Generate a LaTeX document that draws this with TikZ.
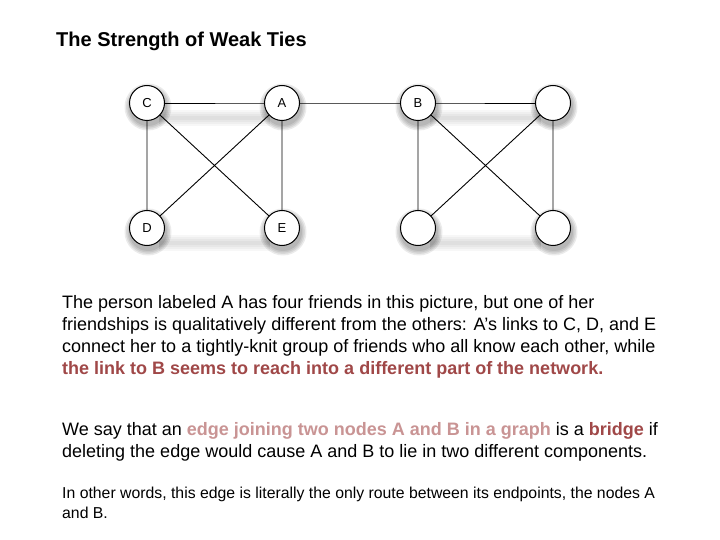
\documentclass[tikz,border=0pt]{standalone}
\usepackage{fontspec}
\setmainfont{Liberation Sans}
\definecolor{darkred}{HTML}{A04848}
\definecolor{lightred}{HTML}{C99494}
\tikzset{
  person/.style={circle, draw=black, line width=1pt, fill=white, minimum size=35pt, inner sep=0pt,
    font=\fontsize{13}{13}\selectfont},
  tie/.style={draw=black, line width=0.9pt},
  softshade/.style={fill=black, opacity=0.08},
  band/.style={fill=black, opacity=0.03},
  line/.style={anchor=base west, inner sep=0pt, font=\fontsize{18}{18}\selectfont},
  smallline/.style={anchor=base west, inner sep=0pt, font=\fontsize{15.8}{15.8}\selectfont},
}
\begin{document}
\begin{tikzpicture}[x=1pt,y=-1pt]
\useasboundingbox (0,0) rectangle (720,540);
\fill[white] (0,0) rectangle (720,540);
\node[anchor=base west, inner sep=0pt, font=\fontsize{20}{20}\selectfont\bfseries] (title) at (56,47) {The Strength of Weak Ties};
% positions
\coordinate (pC) at (147,103);
\coordinate (pA) at (282,103);
\coordinate (pB) at (418,103);
\coordinate (pF) at (553,103);
\coordinate (pD) at (147,228);
\coordinate (pE) at (282,228);
\coordinate (pG) at (418,228);
\coordinate (pH) at (553,228);
% soft shadow bands under the rows
\foreach \x/\y in {147/103, 418/103, 147/228, 418/228} {
  \foreach \h in {2,4,6,8} {
    \fill[band] (\x+12,\y+15-\h) rectangle (\x+123,\y+15+\h);
  }
}
% soft shadows of the circles
\foreach \p in {pC,pA,pB,pF,pD,pE,pG,pH} {
  \foreach \r in {23.5,22,20.5,19} {
    \fill[softshade] ([shift={(1pt,-4pt)}]\p) circle[radius=\r];
  }
}
% edges
\draw[tie] (pC) -- (pA) -- (pB) -- (pF);
\draw[tie] (pC) -- (pD) (pA) -- (pE) (pC) -- (pE) (pA) -- (pD);
\draw[tie] (pB) -- (pG) (pF) -- (pH) (pB) -- (pH) (pF) -- (pG);
\node[person] (C) at (pC) {C};
\node[person] (A) at (pA) {A};
\node[person] (B) at (pB) {B};
\node[person] (F) at (pF) {};
\node[person] (D) at (pD) {D};
\node[person] (E) at (pE) {E};
\node[person] (G) at (pG) {};
\node[person] (H) at (pH) {};
% text
\node[line] (l1) at (62,308.5) {The person labeled A has four friends in this picture, but one of her};
\node[line] (l2) at (62,330.5) {friendships is qualitatively different from the others: A’s links to C, D, and E};
\node[line] (l3) at (62,352.5) {connect her to a tightly-knit group of friends who all know each other, while};
\node[line, font=\fontsize{18}{18}\selectfont\bfseries, text=darkred] (l4) at (62,374.5) {the link to B seems to reach into a different part of the network.};
\node[line] (l5) at (62,435.5) {We say that an \textcolor{lightred}{\bfseries edge joining two nodes A and B in a graph} is a \textcolor{darkred}{\bfseries bridge} if};
\node[line] (l6) at (62,457.5) {deleting the edge would cause A and B to lie in two different components.};
\node[smallline] (l7) at (62,498) {In other words, this edge is literally the only route between its endpoints, the nodes A};
\node[smallline] (l8) at (62,518) {and B.};
\end{tikzpicture}
\end{document}
